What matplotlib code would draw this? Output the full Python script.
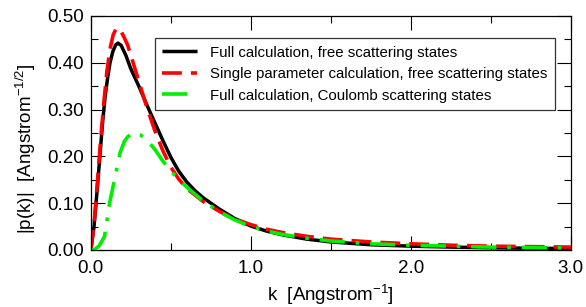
import matplotlib
matplotlib.use('Agg')
import matplotlib.pyplot as plt
from matplotlib.ticker import MultipleLocator, FormatStrFormatter

plt.rcParams['font.family'] = ['Liberation Sans', 'DejaVu Sans']
plt.rcParams['mathtext.fontset'] = 'custom'
plt.rcParams['mathtext.rm'] = 'Liberation Sans'
plt.rcParams['mathtext.it'] = 'Liberation Sans:italic'

# full calculation, free scattering states
k_full = [0.0, 0.02, 0.04, 0.06, 0.075, 0.09, 0.106, 0.12, 0.1375, 0.155, 0.17,
          0.19, 0.22, 0.25, 0.30, 0.35, 0.40, 0.45, 0.50, 0.55, 0.60, 0.65,
          0.70, 0.80, 0.90, 1.00, 1.10, 1.20, 1.35, 1.50, 1.75, 2.00, 2.25,
          2.50, 2.75, 3.00]
p_full = [0.0, 0.05, 0.13, 0.215, 0.278, 0.33, 0.37, 0.40, 0.424, 0.438, 0.442,
          0.437, 0.415, 0.387, 0.35, 0.31, 0.272, 0.234, 0.198, 0.168, 0.145,
          0.127, 0.112, 0.088, 0.067, 0.051, 0.040, 0.032, 0.023, 0.017, 0.011,
          0.008, 0.006, 0.0045, 0.0035, 0.003]

# single parameter calculation, free scattering states
k_single = [0.0, 0.02, 0.04, 0.06, 0.08, 0.10, 0.12, 0.14, 0.16, 0.18, 0.20,
            0.23, 0.26, 0.30, 0.35, 0.40, 0.45, 0.50, 0.55, 0.60, 0.70, 0.80,
            0.90, 1.00, 1.10, 1.20, 1.35, 1.50, 1.75, 2.00, 2.25, 2.50, 2.75,
            3.00]
p_single = [0.0, 0.055, 0.14, 0.23, 0.31, 0.38, 0.43, 0.46, 0.474, 0.472, 0.46,
            0.438, 0.405, 0.36, 0.305, 0.255, 0.212, 0.177, 0.151, 0.131, 0.104,
            0.083, 0.066, 0.054, 0.044, 0.037, 0.029, 0.023, 0.017, 0.013,
            0.010, 0.008, 0.007, 0.006]

# full calculation, Coulomb scattering states
k_coul = [0.0, 0.02, 0.05, 0.085, 0.10, 0.117, 0.148, 0.183, 0.21, 0.231, 0.26,
          0.283, 0.31, 0.35, 0.40, 0.45, 0.50, 0.55, 0.61, 0.70, 0.80, 0.90,
          1.00, 1.10, 1.20, 1.35, 1.50, 1.75, 2.00, 2.25, 2.50, 2.75, 3.00]
p_coul = [0.0, 0.0, 0.008, 0.028, 0.06, 0.10, 0.15, 0.208, 0.232, 0.242, 0.249,
          0.25, 0.246, 0.235, 0.215, 0.19, 0.169, 0.15, 0.131, 0.105, 0.082,
          0.064, 0.050, 0.040, 0.033, 0.025, 0.019, 0.013, 0.010, 0.008, 0.006,
          0.005, 0.004]

labels = ['Full calculation, free scattering states',
          'Single parameter calculation, free scattering states',
          'Full calculation, Coulomb scattering states']

fig = plt.figure(figsize=(5.86, 3.07), dpi=100)
ax = fig.add_axes([0.155, 0.186, 0.819, 0.762])

ax.plot(k_full, p_full, color='black', lw=2.5, label=labels[0],
        solid_capstyle='butt')
ax.plot(k_single, p_single, color='#ff0000', lw=2.6, label=labels[1],
        linestyle=(0, (5.5, 2.5)), dash_capstyle='butt')
ax.plot(k_coul, p_coul, color='#00ee00', lw=2.6, label=labels[2],
        linestyle=(0, (7, 3, 1, 3)), dash_capstyle='butt')

ax.set_xlim(0, 3.0)
ax.set_ylim(0, 0.5)
ax.xaxis.set_major_locator(MultipleLocator(1.0))
ax.xaxis.set_minor_locator(MultipleLocator(0.5))
ax.yaxis.set_major_locator(MultipleLocator(0.1))
ax.yaxis.set_minor_locator(MultipleLocator(0.05))
ax.xaxis.set_major_formatter(FormatStrFormatter('%.1f'))
ax.yaxis.set_major_formatter(FormatStrFormatter('%.2f'))
ax.tick_params(which='both', direction='in', top=True, right=True,
               width=0.8, labelsize=13.5)
ax.tick_params(which='major', length=10)
ax.tick_params(axis='x', which='major', pad=7)
ax.tick_params(axis='y', which='major', pad=5)
ax.tick_params(which='minor', length=5)
for s in ax.spines.values():
    s.set_linewidth(0.9)

ax.set_xlabel(r'k  [Angstrom$^{\mathregular{-1}}$]', fontsize=13.5)
ax.set_ylabel(r'|p(k)|  [Angstrom$^{\mathregular{-1/2}}$]', fontsize=13.5)
ax.xaxis.set_label_coords(0.5, -0.14)
ax.yaxis.set_label_coords(-0.11, 0.43)

leg = ax.legend(loc='upper left', bbox_to_anchor=(0.133, 0.905), fontsize=10.8,
                frameon=True, fancybox=False, handlelength=2.3,
                handletextpad=0.9, labelspacing=0.5, borderpad=0.5,
                borderaxespad=0)
leg.get_frame().set_edgecolor('black')
leg.get_frame().set_linewidth(0.9)

fig.savefig('out.png', dpi=100, facecolor='white')
